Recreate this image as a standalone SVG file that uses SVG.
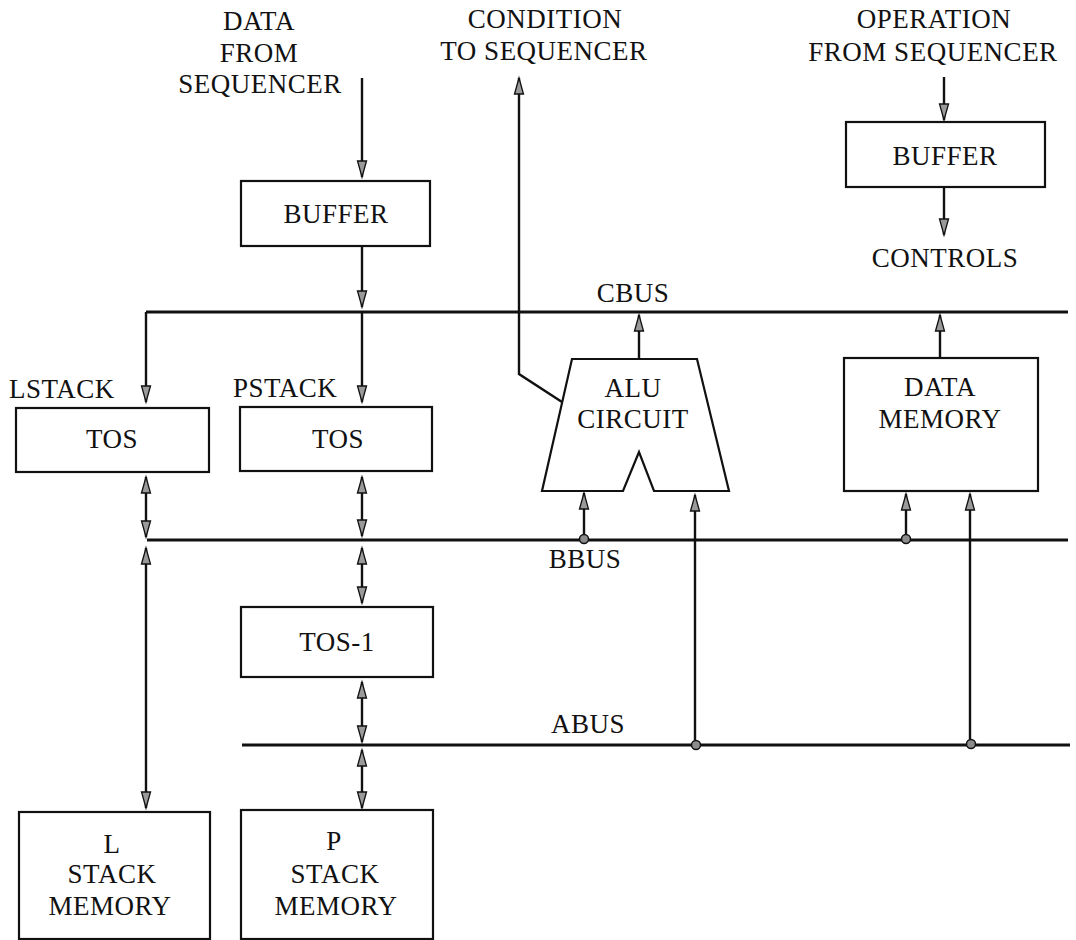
<svg xmlns="http://www.w3.org/2000/svg" width="1076" height="940" viewBox="0 0 1076 940">
<style>
text{font-family:'Liberation Serif','DejaVu Serif',serif;font-size:27px;fill:#111;text-anchor:middle;letter-spacing:0.5px}
.l{text-anchor:start}
.box{fill:#fff;stroke:#111;stroke-width:2.2}
.bus{fill:none;stroke:#111;stroke-width:3}
.w{fill:none;stroke:#111;stroke-width:2.4}
.a{marker-end:url(#ah)}
.d{marker-start:url(#ah);marker-end:url(#ah)}
.dot{fill:#8c8c8c;stroke:#111;stroke-width:1.5}
</style>
<defs>
<marker id="ah" markerUnits="userSpaceOnUse" markerWidth="20" markerHeight="14" viewBox="-1 -7 20 14" refX="16" refY="0" orient="auto-start-reverse">
<path d="M0,-4.5 L16,0 L0,4.5 z" fill="#9a9a9a" stroke="#111" stroke-width="1.3"/>
</marker>
</defs>
<rect width="1076" height="940" fill="#fff"/>

<g id="labels" font-family="Liberation Serif, DejaVu Serif, serif">
<text x="259" y="30">DATA</text>
<text x="259" y="62">FROM</text>
<text x="260" y="93">SEQUENCER</text>
<text x="545" y="28">CONDITION</text>
<text x="544" y="60">TO SEQUENCER</text>
<text x="934" y="28">OPERATION</text>
<text x="933" y="61">FROM SEQUENCER</text>
<text x="945" y="267">CONTROLS</text>
<text x="633" y="302">CBUS</text>
<text x="585" y="568">BBUS</text>
<text x="588" y="733">ABUS</text>
<text class="l" x="9" y="398">LSTACK</text>
<text class="l" x="233" y="397">PSTACK</text>
</g>

<g id="connectors">
<path class="bus" d="M1068,312 H146"/>
<path class="bus" d="M147,540 H1068"/>
<path class="bus" d="M242,745 H1070"/>
<path class="w a" d="M146,312 V402"/>
<path class="w a" d="M362,312 V402"/>
<path class="w a" d="M362,78 V177"/>
<path class="w a" d="M362,246 V307"/>
<path class="w a" d="M944,77 V120"/>
<path class="w a" d="M944,187 V235"/>
<path class="w a" d="M562,402 L519,374 V78"/>
<path class="w a" d="M639,359 V315"/>
<path class="w a" d="M940,358 V315"/>
<path class="w d" d="M146,477 V537"/>
<path class="w d" d="M362,477 V536"/>
<path class="w d" d="M146,548 V808"/>
<path class="w d" d="M362,548 V603"/>
<path class="w d" d="M362,682 V742"/>
<path class="w d" d="M362,750 V808"/>
<path class="w a" d="M584,539 V493"/>
<path class="w a" d="M906,539 V494"/>
<path class="w a" d="M695,745 V495"/>
<path class="w a" d="M970,745 V494"/>
<circle class="dot" cx="584" cy="539" r="4.5"/>
<circle class="dot" cx="906" cy="539" r="4.5"/>
<circle class="dot" cx="696" cy="745" r="4.5"/>
<circle class="dot" cx="971" cy="744" r="4.5"/>
</g>

<g font-family="Liberation Serif, DejaVu Serif, serif">
<g id="buffer-data">
<rect class="box" x="241" y="181" width="189" height="65"/>
<text x="336" y="223">BUFFER</text>
</g>
<g id="buffer-op">
<rect class="box" x="846" y="122" width="199" height="65"/>
<text x="945" y="165">BUFFER</text>
</g>
<g id="lstack-tos">
<rect class="box" x="16" y="408" width="193" height="64"/>
<text x="112" y="448">TOS</text>
</g>
<g id="pstack-tos">
<rect class="box" x="240" y="407" width="192" height="64"/>
<text x="338" y="448">TOS</text>
</g>
<g id="alu">
<path class="box" d="M572,359 H697 L729,491 H654 L639,452 L623,491 H542 Z"/>
<text x="633" y="397">ALU</text>
<text x="633" y="428">CIRCUIT</text>
</g>
<g id="data-memory">
<rect class="box" x="844" y="358" width="194" height="133"/>
<text x="940" y="396">DATA</text>
<text x="940" y="428">MEMORY</text>
</g>
<g id="tos-1">
<rect class="box" x="241" y="607" width="192" height="70"/>
<text x="337" y="651">TOS-1</text>
</g>
<g id="l-stack-memory">
<rect class="box" x="19" y="812" width="191" height="127"/>
<text x="112" y="853">L</text>
<text x="112" y="883">STACK</text>
<text x="110" y="915">MEMORY</text>
</g>
<g id="p-stack-memory">
<rect class="box" x="241" y="810" width="192" height="129"/>
<text x="334" y="850">P</text>
<text x="335" y="883">STACK</text>
<text x="336" y="915">MEMORY</text>
</g>
</g>
</svg>
